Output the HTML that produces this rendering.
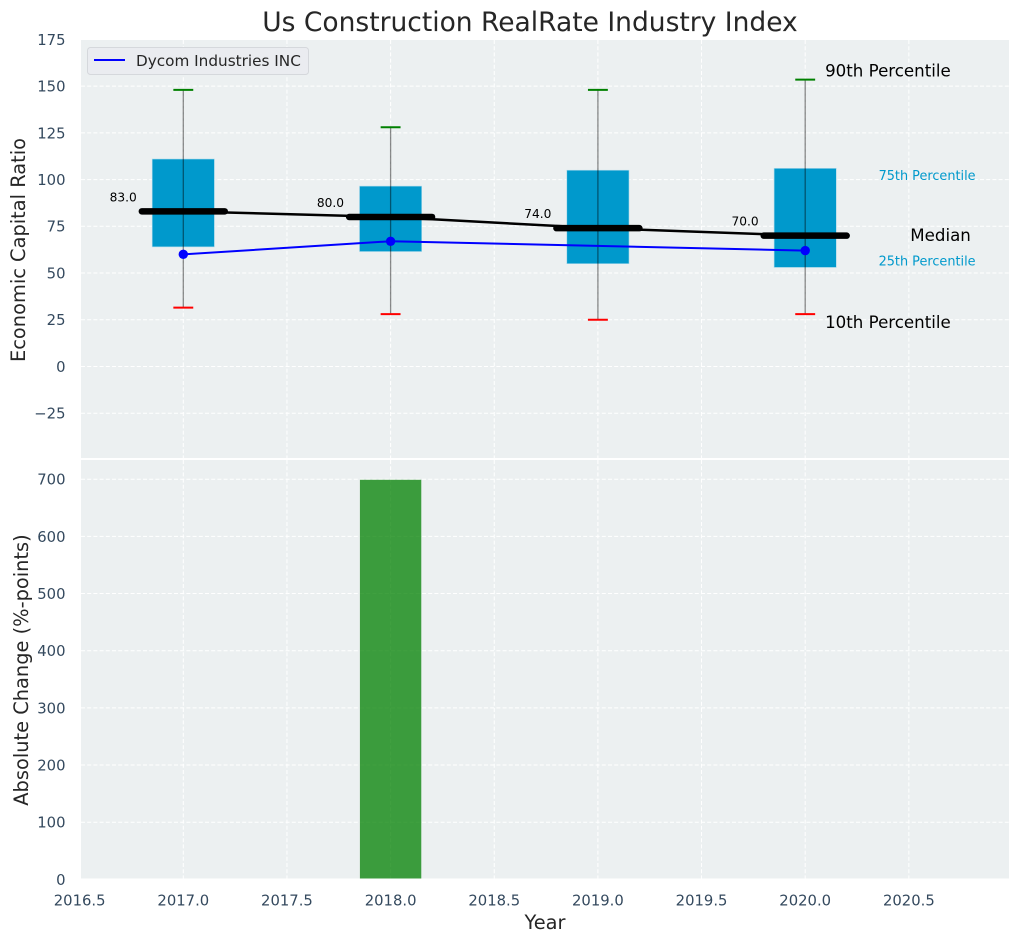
<!DOCTYPE html>
<html>
<head>
<meta charset="utf-8">
<title>Us Construction RealRate Industry Index</title>
<style>
html,body{margin:0;padding:0;background:#fff;}
body{width:1019px;height:942px;overflow:hidden;}
svg{display:block;font-family:"DejaVu Sans","Liberation Sans",sans-serif;}
</style>
</head>
<body>
<svg id="chart" width="1019" height="942" viewBox="0 0 1019 942" xmlns="http://www.w3.org/2000/svg">
  <text x="530" y="31" text-anchor="middle" font-size="26.5" fill="#262626">Us Construction RealRate Industry Index</text>
  <rect x="81" y="40" width="928" height="418" fill="#ecf0f1"/>
  <rect x="81" y="460" width="928" height="418.5" fill="#ecf0f1"/>
  <g id="grid"></g>
  <g id="ticks"></g>
  <g id="bars"></g>
  <g id="boxes"></g>
  <g id="series"></g>
  <g id="notes"></g>
  <text transform="translate(25 250) rotate(-90)" text-anchor="middle" font-size="19.4" fill="#262626">Economic Capital Ratio</text>
  <text transform="translate(28 670) rotate(-90)" text-anchor="middle" font-size="19.4" fill="#262626">Absolute Change (%-points)</text>
  <text x="545" y="929" text-anchor="middle" font-size="19.4" fill="#262626">Year</text>
  <g>
    <rect x="87.5" y="47.5" width="221" height="27" rx="3" fill="#eaecf0" stroke="#d5d8dc" stroke-width="1"/>
    <line x1="94" y1="60" x2="125" y2="60" stroke="#0000ff" stroke-width="2"/>
    <text x="136" y="66" font-size="15.25" fill="#262626">Dycom Industries INC</text>
  </g>
</svg>
<script>
var years = [2017, 2018, 2019, 2020];
var p90 = [148, 128, 148, 153.5];
var p75 = [111, 96.5, 105, 106];
var medians = [83, 80, 74, 70];
var p25 = [64, 61.5, 55, 53];
var p10 = [31.5, 28, 25, 28];
var companyValues = [60, 67, null, 62];
var changeValues = [0, 699, 0, 0];
var topTicks = [-25, 0, 25, 50, 75, 100, 125, 150, 175];
var bottomTicks = [0, 100, 200, 300, 400, 500, 600, 700];
var xTicks = [2016.5, 2017, 2017.5, 2018, 2018.5, 2019, 2019.5, 2020, 2020.5];

var NS = 'http://www.w3.org/2000/svg';
function px(v){ return 183.3 + (v - 2017) * 207.3; }
function pyTop(v){ return 366.5 - v * 1.8692; }
function pyBottom(v){ return 879.4 - v * 0.5717; }
function mk(tag, attrs, parent){
  var el = document.createElementNS(NS, tag);
  for (var k in attrs) el.setAttribute(k, attrs[k]);
  document.getElementById(parent).appendChild(el);
  return el;
}
function label(x, y, str, size, fill, anchor, parent){
  var el = mk('text', {x:x, y:y, 'font-size':size, fill:fill, 'text-anchor':anchor}, parent);
  el.textContent = str;
  return el;
}
var TICK = '#34495e';
var GRID = {stroke:'#ffffff', 'stroke-width':1, 'stroke-dasharray':'4 2.2', fill:'none'};
function gridLine(x1, y1, x2, y2){
  var a = {x1:x1, y1:y1, x2:x2, y2:y2};
  for (var k in GRID) a[k] = GRID[k];
  return mk('line', a, 'grid');
}

xTicks.forEach(function(t){
  var x = px(t);
  if (x >= 81) {
    var g1 = gridLine(x, 40, x, 458);
    
    
    var g2 = gridLine(x, 460, x, 878.5);
    
    
  }
  var lb = label(x, 905.3, t.toFixed(1), 14.8, TICK, 'middle', 'ticks');
  
  
});
topTicks.forEach(function(t){
  var y = pyTop(t);
  if (y > 41) {
    var g = gridLine(81, y, 1009, y);
    
    
  }
  var lb = label(65.5, y + 5.4, t < 0 ? '\u2212' + Math.abs(t) : String(t), 14.8, TICK, 'end', 'ticks');
  
  
});
bottomTicks.forEach(function(t){
  var y = pyBottom(t);
  if (t > 0) {
    var g = gridLine(81, y, 1009, y);
    
    
  }
  var lb = label(65.5, y + 5.4, String(t), 14.8, TICK, 'end', 'ticks');
  
  
});

years.forEach(function(yr, i){
  if (changeValues[i] > 0) {
    var top = pyBottom(changeValues[i]);
    var bar = mk('rect', {x:px(yr - 0.148), y:top, width:px(yr + 0.148) - px(yr - 0.148), height:878.5 - top, fill:'#008000', 'fill-opacity':0.75}, 'bars');
    
    
  }
  var x = px(yr);
  var box = mk('rect', {x:px(yr - 0.15), y:pyTop(p75[i]), width:px(yr + 0.15) - px(yr - 0.15), height:pyTop(p25[i]) - pyTop(p75[i]), fill:'#0099cc', stroke:'#a8d8ea', 'stroke-width':0.6}, 'boxes');
  
  
  var wh = mk('line', {x1:x, y1:pyTop(p90[i]), x2:x, y2:pyTop(p10[i]), stroke:'#000000', 'stroke-opacity':0.45, 'stroke-width':1.3}, 'boxes');
  
  
  var capHi = mk('line', {x1:px(yr - 0.048), y1:pyTop(p90[i]), x2:px(yr + 0.048), y2:pyTop(p90[i]), stroke:'#008000', 'stroke-width':2}, 'series');
  
  
  var capLo = mk('line', {x1:px(yr - 0.048), y1:pyTop(p10[i]), x2:px(yr + 0.048), y2:pyTop(p10[i]), stroke:'#ff0000', 'stroke-width':2}, 'series');
  
  
});

var medianPts = years.map(function(yr, i){ return px(yr) + ',' + pyTop(medians[i]); }).join(' ');
var medianLine = mk('polyline', {points:medianPts, fill:'none', stroke:'#000000', 'stroke-width':2.5}, 'series');


years.forEach(function(yr, i){
  var m = mk('line', {x1:px(yr - 0.2), y1:pyTop(medians[i]), x2:px(yr + 0.2), y2:pyTop(medians[i]), stroke:'#000000', 'stroke-width':6.5, 'stroke-linecap':'round'}, 'series');
  
  
  var v = label(px(yr - 0.29), pyTop(medians[i]) - 10, medians[i].toFixed(1), 12.2, '#000000', 'middle', 'notes');
  
  
});

var companyPts = [];
years.forEach(function(yr, i){
  if (companyValues[i] !== null) companyPts.push(px(yr) + ',' + pyTop(companyValues[i]));
});
var companyLine = mk('polyline', {points:companyPts.join(' '), fill:'none', stroke:'#0000ff', 'stroke-width':2}, 'series');


years.forEach(function(yr, i){
  if (companyValues[i] === null) return;
  var pt = mk('circle', {cx:px(yr), cy:pyTop(companyValues[i]), r:4.7, fill:'#0000ff'}, 'series');
  
  
});

var last = years.length - 1;
var a90 = label(px(2020.096), pyTop(p90[last]) - 3, '90th Percentile', 16.65, '#000000', 'start', 'notes');


var a10 = label(px(2020.096), pyTop(p10[last]) + 14, '10th Percentile', 16.65, '#000000', 'start', 'notes');


var aMed = label(px(2020.507), pyTop(medians[last]) + 5.5, 'Median', 16.65, '#000000', 'start', 'notes');


var a75 = label(px(2020.354), pyTop(p75[last]) + 11.5, '75th Percentile', 12.85, '#0099cc', 'start', 'notes');


var a25 = label(px(2020.354), pyTop(p25[last]) - 2, '25th Percentile', 12.85, '#0099cc', 'start', 'notes');


</script>
</body>
</html>
